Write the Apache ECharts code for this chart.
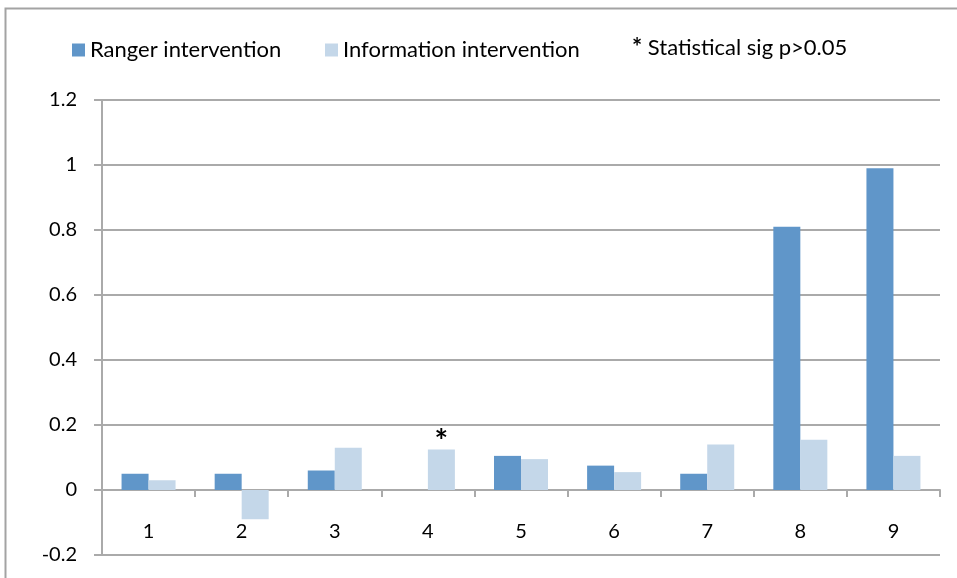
<!DOCTYPE html>
<html>
<head>
<meta charset="utf-8">
<script src="https://cdn.jsdelivr.net/npm/echarts@6/dist/echarts.min.js"></script>
<style>
  html, body { margin: 0; padding: 0; background: #fff; }
  #chart { width: 957px; height: 578px; }
</style>
</head>
<body>
<div id="chart"></div>
<script>
// Outcome measures 1–9, effect size per intervention
const categories = ['1', '2', '3', '4', '5', '6', '7', '8', '9'];
const rangerValues = [0.05, 0.05, 0.06, 0, 0.105, 0.075, 0.05, 0.81, 0.99];
const infoValues = [0.03, -0.09, 0.13, 0.125, 0.095, 0.055, 0.14, 0.155, 0.105];
// Index of the measure flagged as statistically significant
const sigIndex = [3];
const seriesNames = ['Ranger intervention', 'Information intervention'];
const noteText = ' Statistical sig p>0.05';

const FONT = 'Lato';
const gridColor = '#aaaaaa';

const chart = echarts.init(document.getElementById('chart'), null, { renderer: 'canvas' });

const infoData = infoValues.map((v, i) => sigIndex.includes(i)
  ? { value: v, label: { show: true, position: 'top', formatter: '*', fontSize: 32, fontWeight: 'bold', color: '#000', fontFamily: FONT, distance: -9 } }
  : v);

const legendText = { fontSize: 22, color: '#000', fontFamily: FONT };

chart.setOption({
  animation: false,
  backgroundColor: '#fff',
  textStyle: { fontFamily: FONT },
  grid: { left: 102, right: 17, top: 100, bottom: 23, containLabel: false, outerBoundsMode: 'none' },
  legend: [
    {
      left: 67, top: 34, itemWidth: 13, itemHeight: 13, icon: 'rect',
      textStyle: legendText, data: [seriesNames[0]]
    },
    {
      left: 320, top: 34, itemWidth: 13, itemHeight: 13, icon: 'rect',
      textStyle: legendText, data: [seriesNames[1]]
    }
  ],
  graphic: [
    {
      type: 'rect', silent: true, z: -1,
      shape: { x: 5.5, y: 8.5, width: 1000, height: 600 },
      style: { fill: null, stroke: '#a3a3a3', lineWidth: 2 }
    },
    {
      type: 'text', left: 632, top: 36,
      style: {
        text: '{star|*}{txt|' + noteText + '}',
        rich: {
          star: { fontSize: 24, fontWeight: 'bold', fill: '#000', fontFamily: FONT },
          txt: { fontSize: 22, fill: '#000', fontFamily: FONT }
        }
      }
    }
  ],
  xAxis: {
    type: 'category',
    data: categories,
    axisLine: { onZero: true, lineStyle: { color: gridColor, width: 2 } },
    axisTick: { show: true, alignWithLabel: false, length: 7, lineStyle: { color: gridColor, width: 2 } },
    axisLabel: { margin: -33, fontSize: 20, color: '#000', fontFamily: FONT },
    splitLine: { show: false }
  },
  yAxis: {
    type: 'value',
    min: -0.2, max: 1.2, interval: 0.2,
    axisLine: { show: true, lineStyle: { color: gridColor, width: 2 } },
    axisTick: { show: true, length: 8, lineStyle: { color: gridColor, width: 2 } },
    axisLabel: { margin: 25, fontSize: 20, color: '#000', fontFamily: FONT },
    splitLine: { show: true, lineStyle: { color: gridColor, width: 2 } }
  },
  series: [
    {
      name: seriesNames[0], type: 'bar', data: rangerValues,
      barGap: '0%', barCategoryGap: '42%',
      itemStyle: { color: '#6096c9' }
    },
    {
      name: seriesNames[1], type: 'bar', data: infoData,
      barGap: '0%', barCategoryGap: '42%',
      itemStyle: { color: '#c4d7e9' }
    }
  ]
});
</script>
</body>
</html>
